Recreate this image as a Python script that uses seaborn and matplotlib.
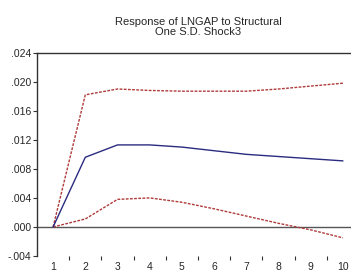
import numpy as np
import pandas as pd
import seaborn as sns
import matplotlib.pyplot as plt
from matplotlib.ticker import FuncFormatter, FixedLocator

periods = [1, 2, 3, 4, 5, 6, 7, 8, 9, 10]
response = [0.0, 0.0096, 0.0113, 0.0113, 0.0110, 0.0105, 0.0100, 0.0097, 0.0094, 0.0091]
upper = [0.0, 0.0182, 0.0190, 0.0188, 0.0187, 0.0187, 0.0187, 0.0190, 0.0194, 0.0198]
lower = [0.0, 0.0011, 0.0038, 0.0040, 0.0034, 0.0025, 0.0015, 0.0005, -0.0004, -0.0015]
y_ticks = [-0.004, 0.0, 0.004, 0.008, 0.012, 0.016, 0.020, 0.024]

df = pd.DataFrame({"period": periods, "response": response, "upper": upper, "lower": lower})

sns.set_style("white")
plt.rcParams['font.family'] = ['Liberation Sans', 'DejaVu Sans']

fig = plt.figure(figsize=(3.51, 2.75), dpi=100)
ax = fig.add_axes([37 / 351, 1 - 256 / 275, 1 - 37 / 351, (256 - 52.7) / 275])

ax.axhline(0, color='#555555', lw=1.0, zorder=1)
sns.lineplot(data=df, x="period", y="upper", ax=ax, color='#b03a3a', lw=1.0, linestyle=(0, (2, 1)))
sns.lineplot(data=df, x="period", y="lower", ax=ax, color='#b03a3a', lw=1.0, linestyle=(0, (2, 1)))
sns.lineplot(data=df, x="period", y="response", ax=ax, color='#2b2b80', lw=1.0)

ax.set_xlim(0.5, 10.25)
ax.set_ylim(-0.004, 0.024)
ax.set_yticks(y_ticks)
ax.yaxis.set_major_formatter(FuncFormatter(lambda v, p: ('%.3f' % v).replace('0.', '.') if abs(v) > 1e-12 else '.000'))
ax.set_xticks(periods)
ax.xaxis.set_minor_locator(FixedLocator([p + 0.5 for p in periods[:-1]]))
ax.tick_params(axis='x', which='major', length=0, labelsize=7.5, pad=4)
ax.tick_params(axis='x', which='minor', length=3, width=0.8, direction='out', color='#333333', bottom=True)
ax.tick_params(axis='y', length=3, width=0.8, direction='out', color='#333333', labelsize=7.5, pad=1, left=True)
ax.set_xlabel('')
ax.set_ylabel('')

for s in ['right', 'bottom']:
    ax.spines[s].set_visible(False)
for s in ['left', 'top']:
    ax.spines[s].set_color('#333333')
    ax.spines[s].set_linewidth(1.0)

fig.text((37 + 351) / 2 / 351 + 0.012, 1 - 27 / 275, 'Response of LNGAP to Structural\nOne S.D. Shock3',
         ha='center', va='center', fontsize=8, linespacing=1.1)

fig.savefig('out.png', dpi=100)
